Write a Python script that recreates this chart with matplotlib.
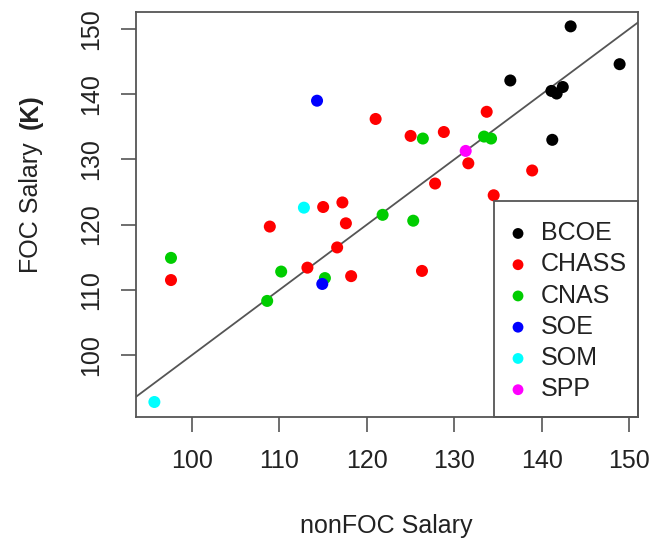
import matplotlib.pyplot as plt
from matplotlib.patches import Rectangle
import numpy as np

plt.rcParams['font.family'] = ['Liberation Sans', 'DejaVu Sans']

colleges = ['BCOE', 'CHASS', 'CNAS', 'SOE', 'SOM', 'SPP']
colors = ['black', '#ff0000', '#00cd00', '#0000ff', '#00ffff', '#ff00ff']

# nonFOC salary (K), FOC salary (K) for each college
bcoe_x = [143.3, 148.9, 136.4, 141.1, 141.7, 142.4, 141.2]
bcoe_y = [150.4, 144.6, 142.1, 140.5, 140.1, 141.1, 133.0]
chass_x = [121.0, 133.7, 125.0, 128.8, 131.6, 138.9, 127.8, 134.5, 115.0, 117.2,
           108.9, 117.6, 97.6, 113.2, 116.6, 118.2, 126.3]
chass_y = [136.2, 137.3, 133.6, 134.2, 129.4, 128.3, 126.3, 124.5, 122.7, 123.4,
           119.7, 120.2, 111.5, 113.4, 116.5, 112.1, 112.9]
cnas_x = [126.4, 133.4, 134.2, 121.8, 125.3, 97.6, 110.2, 115.2, 108.6]
cnas_y = [133.2, 133.5, 133.2, 121.5, 120.6, 114.9, 112.8, 111.8, 108.3]
soe_x = [114.3, 114.9]
soe_y = [139.0, 110.9]
som_x = [112.8, 95.7]
som_y = [122.6, 92.8]
spp_x = [131.3]
spp_y = [131.3]

groups = [(bcoe_x, bcoe_y), (chass_x, chass_y), (cnas_x, cnas_y),
          (soe_x, soe_y), (som_x, som_y), (spp_x, spp_y)]

fig = plt.figure(figsize=(6.52, 5.41), dpi=100)
ax = fig.add_axes([0.2086, 0.2292, 0.7699, 0.7486])

for (gx, gy), name, c in zip(groups, colleges, colors):
    ax.scatter(gx, gy, s=75, color=c, edgecolors='none', label=name, zorder=3)

ax.set_xlim(93.6, 151.0)
ax.set_ylim(90.5, 152.6)
xs = np.array(ax.get_xlim())
ax.plot(xs, xs, color='#555555', linewidth=1.3, zorder=2)

ax.set_xticks([100, 110, 120, 130, 140, 150])
ax.set_yticks([100, 110, 120, 130, 140, 150])
for lab in ax.get_yticklabels():
    lab.set_rotation(90)
    lab.set_va('center')
ax.tick_params(axis='both', length=11, width=1.2, color='#555555',
               labelsize=18, labelcolor='#222222')
ax.tick_params(axis='x', pad=12)
ax.tick_params(axis='y', pad=13)
for sp in ax.spines.values():
    sp.set_color('#555555')
    sp.set_linewidth(1.3)

fig.text(0.592, 0.028, 'nonFOC Salary', ha='center', va='center',
         fontsize=18, color='#222222')
fig.text(0.0475, 0.6155, 'FOC Salary', ha='center', va='center', rotation=90,
         fontsize=18, color='#222222')
fig.text(0.0475, 0.793, '(K)', ha='center', va='center', rotation=90,
         fontsize=18, color='#222222', fontweight='bold')

# legend box in bottom-right corner
ax.add_patch(Rectangle((0.7137, 0.0), 1 - 0.7137, 0.5333, transform=ax.transAxes,
                       fill=False, edgecolor='#555555', linewidth=1.3,
                       zorder=4, clip_on=False))
leg = ax.legend(loc='upper left', bbox_to_anchor=(0.7137, 0.5333),
                borderaxespad=0, frameon=False, fontsize=18,
                handletextpad=0.76, labelspacing=0.29, borderpad=0.8,
                handlelength=0.3, scatterpoints=1, markerscale=0.9)
for t in leg.get_texts():
    t.set_color('#222222')

fig.savefig('out.png', dpi=100)
